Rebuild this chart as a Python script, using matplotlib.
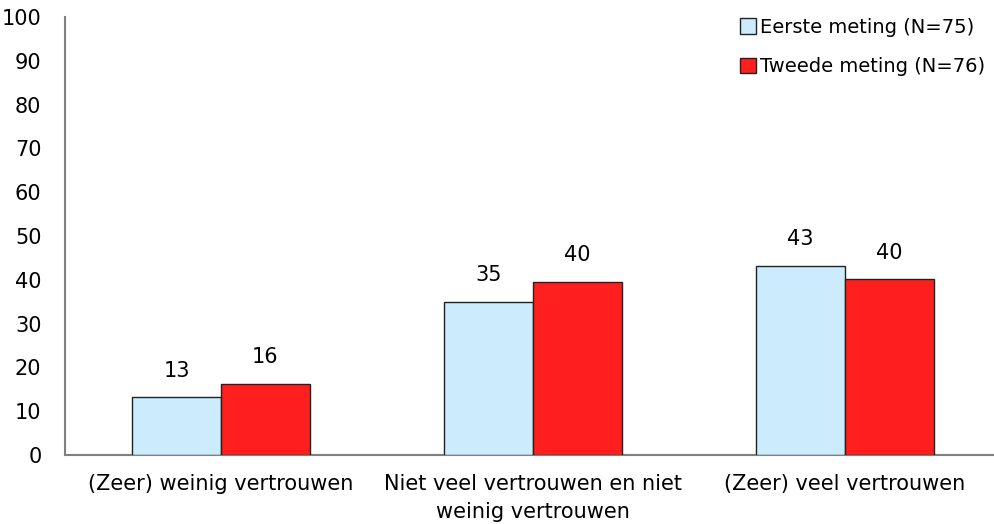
import matplotlib
matplotlib.use("Agg")
import matplotlib.pyplot as plt
from matplotlib.patches import Patch
import numpy as np

categories = ["(Zeer) weinig vertrouwen", "Niet veel vertrouwen en niet\nweinig vertrouwen", "(Zeer) veel vertrouwen"]
series_names = ["Eerste meting (N=75)", "Tweede meting (N=76)"]
eerste = [13.2, 34.9, 43.2]
tweede = [16.2, 39.6, 40.1]
yticks = list(range(0, 101, 10))

colors = ["#CCEBFD", "#FF1F1F"]
plt.rcParams['font.family'] = ['DejaVu Sans']
FS = 15

fig = plt.figure(figsize=(9.94, 5.24), dpi=100)
ax = fig.add_axes([65/994, 69/524, 936/994, 438/524])

x = np.arange(len(categories))
w = 0.285
for i, (vals, c) in enumerate(zip([eerste, tweede], colors)):
    pos = x + (i - 0.5) * w
    bars = ax.bar(pos, vals, width=w, color=c, edgecolor="#222222", linewidth=1.0, zorder=3)
    for b, v in zip(bars, vals):
        ax.annotate(f"{round(v)}", (b.get_x() + b.get_width()/2, v), xytext=(0, 12),
                    textcoords="offset points", ha="center", va="bottom", fontsize=FS)

ax.set_xlim(-0.5, 2.5)
ax.set_ylim(0, 100)
ax.set_yticks(yticks)
ax.set_xticks(x)
ax.set_xticklabels(categories, fontsize=FS, linespacing=1.45)
ax.tick_params(axis="y", length=0, pad=17, labelsize=FS)
ax.tick_params(axis="x", length=0, pad=14)
for s in ["top", "right"]:
    ax.spines[s].set_visible(False)
for s in ["left", "bottom"]:
    ax.spines[s].set_color("#808080")
    ax.spines[s].set_linewidth(1.5)

handles = [Patch(facecolor=c, edgecolor="#222222", linewidth=1.0) for c in colors]
fig.legend(handles, series_names, loc="upper left", bbox_to_anchor=(732/994, 1 - 10/524),
           frameon=False, fontsize=14, handlelength=0.85, handleheight=0.85,
           handletextpad=0.2, labelspacing=1.05, borderaxespad=0)

fig.savefig("out.png", dpi=100)
